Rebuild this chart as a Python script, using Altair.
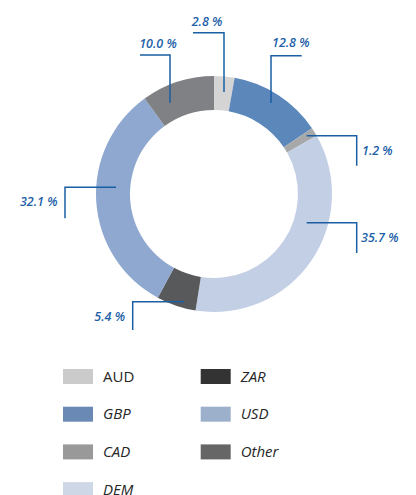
import altair as alt
import pandas as pd

# ---- data ----
currencies = ["AUD", "GBP", "CAD", "DEM", "ZAR", "USD", "Other"]
shares = [2.8, 12.8, 1.2, 35.7, 5.4, 32.1, 10.0]
labels = ["2.8 %", "12.8 %", "1.2 %", "35.7 %", "5.4 %", "32.1 %", "10.0 %"]

# ---- styles ----
slice_colors = ["#d4d4d5", "#5b87bb", "#a7a8aa", "#c3cfe5", "#58595b", "#8ea8cf", "#808184"]
swatch_colors = ["#cbcbcb", "#6a89b5", "#999999", "#cdd7e5", "#333333", "#9cb0cb", "#666666"]
BLUE_LINE = "#1a5fa3"
BLUE_TEXT = "#1d5fa8"
M = 8  # page margin; layout below is given in page pixels
W, H = 400, 487
CX, CY = 214, 194
R_OUT, R_IN = 118, 84

# callout layout (page px): leader polyline and text anchor
callout_lines = [
    [(224, 92), (224, 32.7), (193, 32.7)],
    [(271, 103), (271, 55.7), (301.7, 55.7)],
    [(306.7, 135.7), (356.7, 135.7), (356.7, 165.7)],
    [(306.7, 222.7), (356.7, 222.7), (356.7, 253)],
    [(184, 301.7), (132.7, 301.7), (132.7, 330)],
    [(116, 187.3), (65, 187.3), (65, 218.3)],
    [(170, 102.7), (170, 55), (140, 55)],
]
callout_text = [
    (207, 22, "center"),
    (272, 43, "left"),
    (362, 151, "left"),
    (361, 238, "left"),
    (125, 317, "right"),
    (57.5, 202, "right"),
    (158, 44, "center"),
]

# ---- tables ----
slices = pd.DataFrame({
    "currency": currencies,
    "share": shares,
    "order": list(range(len(currencies))),
    "color": slice_colors,
})

line_rows = []
for i, pts in enumerate(callout_lines):
    for j, (px, py) in enumerate(pts):
        line_rows.append({"cur": currencies[i], "k": j, "x": px - M, "y": py - M})
lines_df = pd.DataFrame(line_rows)

text_df = pd.DataFrame({
    "label": labels,
    "x": [t[0] - M for t in callout_text],
    "y": [t[1] - M for t in callout_text],
    "align": [t[2] for t in callout_text],
})

leg_rows = []
for i, c in enumerate(currencies):
    col, row = i // 4, i % 4
    x0 = [63, 200.7][col]
    y0 = 369 + row * 37.7
    leg_rows.append({
        "currency": c, "color": swatch_colors[i],
        "x": x0 - M, "x2": x0 + 30 - M,
        "y": y0 - M, "y2": y0 + 15 - M,
        "tx": x0 + 40 - M, "ty": y0 + 7.5 - M,
        "italic": c != "AUD",
    })
leg_df = pd.DataFrame(leg_rows)

xs = alt.Scale(domain=[0, W], range=[0, W], nice=False, zero=False)
ys = alt.Scale(domain=[0, H], range=[0, H], nice=False, zero=False)

donut = alt.Chart(slices).mark_arc(innerRadius=R_IN, outerRadius=R_OUT, stroke=None).encode(
    theta=alt.Theta("share:Q", stack=True),
    order=alt.Order("order:Q"),
    color=alt.Color("color:N", scale=None),
    x=alt.value(CX - M),
    y=alt.value(CY - M),
)

leaders = alt.Chart(lines_df).mark_line(color=BLUE_LINE, strokeWidth=1.5).encode(
    x=alt.X("x:Q", scale=xs, axis=None),
    y=alt.Y("y:Q", scale=ys, axis=None),
    detail="cur:N",
    order="k:Q",
)

def callout_layer(al):
    return alt.Chart(text_df).transform_filter(alt.datum.align == al).mark_text(
        align=al, baseline="middle", font="Open Sans", fontStyle="italic",
        fontWeight=600, fontSize=12.5, color=BLUE_TEXT,
    ).encode(
        x=alt.X("x:Q", scale=xs, axis=None),
        y=alt.Y("y:Q", scale=ys, axis=None),
        text="label:N",
    )

swatches = alt.Chart(leg_df).mark_rect().encode(
    x=alt.X("x:Q", scale=xs, axis=None), x2="x2:Q",
    y=alt.Y("y:Q", scale=ys, axis=None), y2="y2:Q",
    color=alt.Color("color:N", scale=None),
)

def legend_text(italic):
    return alt.Chart(leg_df).transform_filter(alt.datum.italic == italic).mark_text(
        align="left", baseline="middle", font="Open Sans",
        fontStyle="italic" if italic else "normal", fontSize=15, color="#262626",
    ).encode(
        x=alt.X("tx:Q", scale=xs, axis=None),
        y=alt.Y("ty:Q", scale=ys, axis=None),
        text="currency:N",
    )

chart = alt.layer(
    donut, leaders,
    callout_layer("left"), callout_layer("center"), callout_layer("right"),
    swatches, legend_text(True), legend_text(False),
).properties(
    width=W, height=H, padding=0, autosize=alt.AutoSizeParams(type="none"),
).configure_view(stroke=None)

chart.save("out.html", embed_options={"renderer": "svg", "actions": False})
